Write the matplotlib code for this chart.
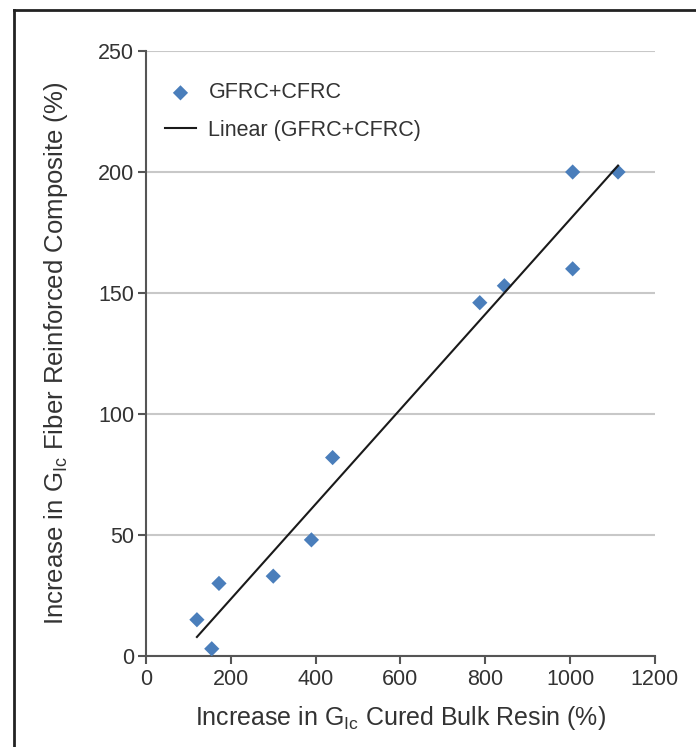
import matplotlib.pyplot as plt
import numpy as np
from matplotlib.lines import Line2D

plt.rcParams['font.family'] = ['Liberation Sans', 'DejaVu Sans']
plt.rcParams['mathtext.fontset'] = 'custom'
plt.rcParams['mathtext.rm'] = 'Liberation Sans'
plt.rcParams['mathtext.it'] = 'Liberation Sans:italic'

# increase in G_Ic, cured bulk resin (%) vs fibre reinforced composite (%)
resin = [120, 155, 172, 300, 390, 440, 787, 845, 1006, 1006, 1113]
composite = [15, 3, 30, 33, 48, 82, 146, 153, 200, 160, 200]

xticks = [0, 200, 400, 600, 800, 1000, 1200]
yticks = [0, 50, 100, 150, 200, 250]

fig = plt.figure(figsize=(6.96, 7.47), dpi=100)
ax = fig.add_axes([0.2098, 0.1218, 0.7312, 0.8099])

# outer frame (left and top edges visible)
fig.add_artist(Line2D([13.5/696, 13.5/696], [0, 1 - 10/747], color='#222222', lw=2, transform=fig.transFigure))
fig.add_artist(Line2D([13.5/696, 1], [1 - 10/747, 1 - 10/747], color='#222222', lw=2, transform=fig.transFigure))

ax.scatter(resin, composite, marker='D', s=60, color='#4a7ebb', zorder=3,
           edgecolors='none', label='GFRC+CFRC')

slope, icpt = np.polyfit(resin, composite, 1)
xs = np.array([min(resin), max(resin)])
ax.plot(xs, slope*xs + icpt, color='#1a1a1a', lw=1.5, zorder=4, label='Linear (GFRC+CFRC)')

ax.set_xlim(0, 1200)
ax.set_ylim(0, 250)
ax.set_xticks(xticks)
ax.set_yticks(yticks)
ax.yaxis.grid(True, color='#c8c8c8', lw=1.5)
ax.set_axisbelow(True)
for s in ['top', 'right']:
    ax.spines[s].set_visible(False)
for s in ['left', 'bottom']:
    ax.spines[s].set_color('#555555')
    ax.spines[s].set_linewidth(1.5)
ax.tick_params(colors='#555555', width=1.5, length=6, labelsize=15.5, labelcolor='#333333')
ax.tick_params(axis='y', pad=2.5)

ax.set_xlabel(r'Increase in G$_{\mathrm{Ic}}$ Cured Bulk Resin (%)', fontsize=18, color='#333333', labelpad=10)
ax.set_ylabel(r'Increase in G$_{\mathrm{Ic}}$ Fiber Reinforced Composite (%)', fontsize=18.5, color='#333333', labelpad=20)

ax.legend(loc='upper left', bbox_to_anchor=(0.0, 0.98), frameon=False, fontsize=15.5,
          handlelength=1.4, handletextpad=0.6, labelspacing=0.75, labelcolor='#333333')

fig.savefig('out.png', dpi=100)
